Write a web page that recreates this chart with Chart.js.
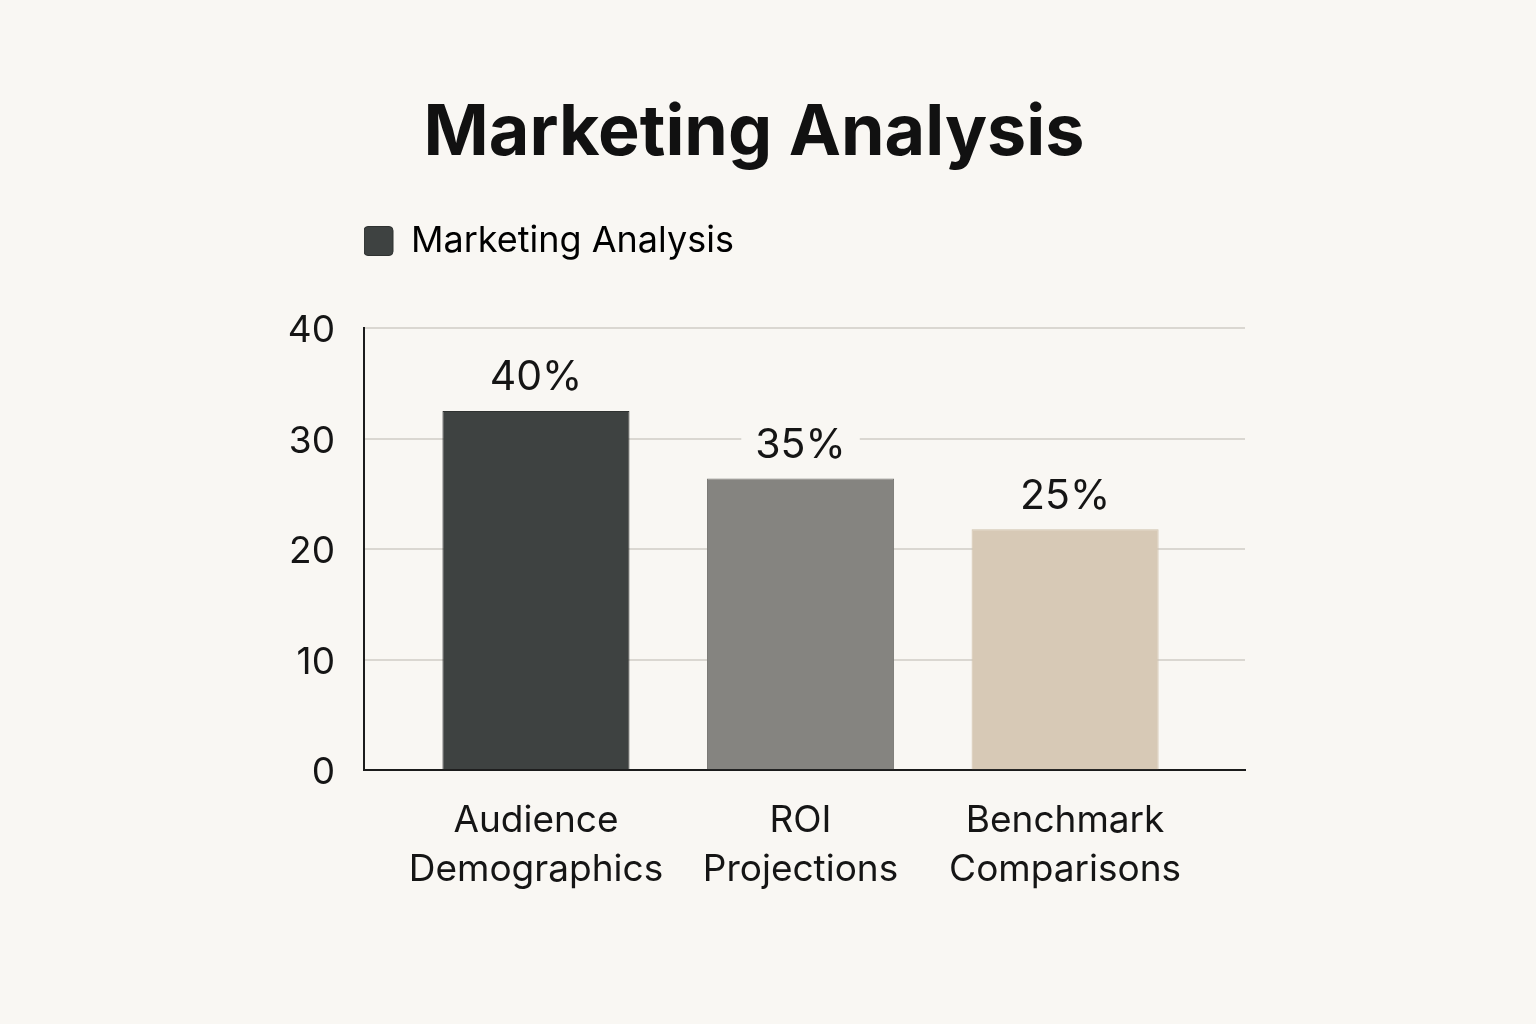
<!DOCTYPE html>
<html>
<head>
<meta charset="utf-8">
<script src="https://cdn.jsdelivr.net/npm/chart.js@4.4.0/dist/chart.umd.min.js"></script>
<style>
  html, body { margin: 0; padding: 0; background: #f9f7f3; }
  #wrap { width: 1536px; height: 1024px; }
</style>
</head>
<body>
<div id="wrap"><canvas id="chart"></canvas></div>
<script>
// data
const categories = [['Audience', 'Demographics'], ['ROI', 'Projections'], ['Benchmark', 'Comparisons']];
const positions = [0, 1, 2];
const values = [32.5, 26.4, 21.8];
const valueLabels = ['40%', '35%', '25%'];
const barColors = ['#3e4241', '#858480', '#d7c9b6'];
const yTicks = [0, 10, 20, 30, 40];
const seriesName = 'Marketing Analysis';

const pageBg = '#f9f7f3';
const fontFamily = "Inter, 'Noto Sans', Arial, sans-serif";

// label above each bar, with a page-coloured patch behind it
const valueLabelPlugin = {
    id: 'valueLabels',
    afterDatasetsDraw(chart) {
        const ctx = chart.ctx;
        const meta = chart.getDatasetMeta(0);
        ctx.save();
        ctx.font = `400 41px ${fontFamily}`;
        ctx.textAlign = 'center';
        ctx.textBaseline = 'middle';
        meta.data.forEach((bar, i) => {
            const y = bar.y - 33;
            const w = ctx.measureText(valueLabels[i]).width;
            ctx.fillStyle = pageBg;
            ctx.fillRect(bar.x - w / 2 - 14, y - 22, w + 28, 44);
            ctx.fillStyle = '#151515';
            ctx.fillText(valueLabels[i], bar.x, y);
        });
        ctx.restore();
    }
};

// extra room between the legend and the plot
const legendGapPlugin = {
    id: 'legendGap',
    afterInit(chart) {
        const fit = chart.legend.fit;
        chart.legend.fit = function () {
            fit.call(this);
            this.height += 59;
        };
    }
};

const ctx = document.getElementById('chart').getContext('2d');
const myChart = new Chart(ctx, {
    type: 'bar',
    data: {
        datasets: [{
            label: seriesName,
            data: positions.map((p, i) => ({x: p, y: values[i]})),
            backgroundColor: barColors,
            borderColor: ['#2f3231', '#7a7975', '#d0c1ad'],
            borderWidth: 1,
            borderSkipped: 'bottom',
            categoryPercentage: 1,
            barPercentage: 0.707
        }]
    },
    options: {
        responsive: true,
        maintainAspectRatio: false,
        animation: false,
        layout: {
            padding: {top: 0, left: 263, right: 291, bottom: 104}
        },
        plugins: {
            title: {
                display: true,
                text: 'Marketing Analysis',
                color: '#111',
                font: {size: 70, weight: '700', family: fontFamily, lineHeight: 1.2},
                padding: {top: 92, bottom: 47}
            },
            legend: {
                display: true,
                position: 'top',
                align: 'start',
                fullSize: false,
                labels: {
                    color: '#151515',
                    font: {size: 36, family: fontFamily},
                    boxWidth: 29,
                    boxHeight: 29,
                    padding: 0,
                    useBorderRadius: true,
                    borderRadius: 4,
                    generateLabels: () => [{
                        text: seriesName,
                        fillStyle: barColors[0],
                        strokeStyle: '#2f3231',
                        lineWidth: 1,
                        borderRadius: 4,
                        datasetIndex: 0
                    }]
                }
            },
            tooltip: {enabled: false}
        },
        scales: {
            x: {
                type: 'linear',
                min: -0.65,
                max: 2.68,
                bounds: 'data',
                offset: false,
                afterBuildTicks(scale) { scale.ticks = positions.map(v => ({value: v})); },
                grid: {display: false, drawTicks: false, offset: false},
                border: {display: true, color: '#1c1c1c', width: 2},
                ticks: {
                    autoSkip: false,
                    maxRotation: 0,
                    padding: 26,
                    color: '#151515',
                    font: {size: 37, family: fontFamily, lineHeight: 1.32},
                    callback: (v, i) => categories[i]
                }
            },
            y: {
                min: 0,
                max: 40,
                afterFit(scale) { scale.width = 101; },
                afterBuildTicks(scale) { scale.ticks = yTicks.map(v => ({value: v})); },
                grid: {color: '#dad7d1', lineWidth: 2, drawTicks: false},
                border: {display: true, color: '#1c1c1c', width: 2},
                ticks: {
                    padding: 29,
                    labelOffset: 3,
                    color: '#151515',
                    font: {size: 37, family: fontFamily}
                }
            }
        }
    },
    plugins: [valueLabelPlugin, legendGapPlugin]
});
</script>
</body>
</html>
